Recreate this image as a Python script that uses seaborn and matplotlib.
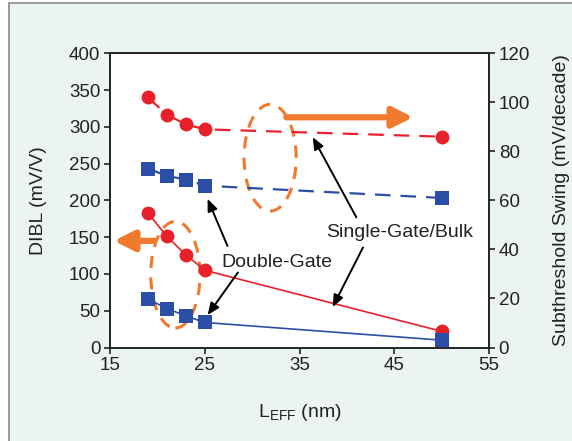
import matplotlib
matplotlib.use("Agg")
import matplotlib.pyplot as plt
from matplotlib.patches import Ellipse, Rectangle
import seaborn as sns
import pandas as pd

# ---- data ----
leff = [19, 21, 23, 25, 50]
dibl_single = [183, 151, 126, 105, 22]
dibl_double = [66, 53, 43, 34, 10]
ss_single = [102, 95, 91, 89, 86]
ss_double = [73, 70, 68.5, 66, 61]

xticks = [15, 25, 35, 45, 55]
yticks_left = [0, 50, 100, 150, 200, 250, 300, 350, 400]
yticks_right = [0, 20, 40, 60, 80, 100, 120]

RED = "#e8202a"
BLUE = "#2b4ea6"
ORANGE = "#f07a2e"
TXT = "#222222"

sns.set_theme(style="ticks")
plt.rcParams["font.family"] = ["Liberation Sans", "DejaVu Sans"]
plt.rcParams["mathtext.fontset"] = "custom"
plt.rcParams["mathtext.rm"] = "Liberation Sans"

fig = plt.figure(figsize=(5.72, 4.41), dpi=100)
fig.patch.set_facecolor("white")
# outer panel
W, H = 572, 441
fig.patches.append(Rectangle((9 / W, -0.1), 1.2, 1 - 3 / H + 0.1, transform=fig.transFigure,
                             facecolor="#ebf4f2", edgecolor="#8a8a8a", lw=1.2, zorder=-10))

ax = fig.add_axes([110 / W, (441 - 347.5) / H, 379 / W, 294.2 / H])
ax.set_facecolor("white")
ax2 = ax.twinx()

df = pd.DataFrame({"leff": leff, "dibl_single": dibl_single, "dibl_double": dibl_double,
                   "ss_single": ss_single, "ss_double": ss_double})

# solid lines (DIBL, left axis)
sns.lineplot(data=df, x="leff", y="dibl_single", ax=ax, color=RED, lw=1.2,
             marker="o", markersize=10, markeredgewidth=0, zorder=4)
sns.lineplot(data=df, x="leff", y="dibl_double", ax=ax, color=BLUE, lw=1.2,
             marker="s", markersize=10, markeredgewidth=0, zorder=4)
# dashed lines (subthreshold swing, right axis)
sns.lineplot(data=df, x="leff", y="ss_single", ax=ax2, color=RED, lw=1.6,
             dashes=(7, 4.5), marker="o", markersize=10, markeredgewidth=0)
sns.lineplot(data=df, x="leff", y="ss_double", ax=ax2, color=BLUE, lw=1.6,
             dashes=(7, 4.5), marker="s", markersize=10, markeredgewidth=0)

ax.set_xlim(15, 55)
ax.set_ylim(0, 400)
ax2.set_ylim(0, 120)
ax.set_xticks(xticks)
ax.set_yticks(yticks_left)
ax2.set_yticks(yticks_right)

for a in (ax, ax2):
    for s in a.spines.values():
        s.set_color("#222222")
        s.set_linewidth(1.2)
    a.tick_params(direction="out", length=4, width=1.2, colors="#222222",
                  labelsize=13.5, labelcolor=TXT, pad=3)

ax.set_xlabel(r"$\mathregular{L_{EFF}}$ (nm)", fontsize=14, color=TXT, labelpad=20)
ax.set_ylabel("DIBL (mV/V)", fontsize=14, color=TXT)
ax2.set_ylabel("Subthreshold Swing (mV/decade)", fontsize=14, color=TXT)
ax.yaxis.set_label_coords(-0.165, 0.5)
ax2.yaxis.set_label_coords(1.17, 0.5)

# dashed orange ellipses (in DIBL data coords)
for (cx, cy, w, h) in [(31.9, 258, 5.5, 145), (21.9, 99, 5.2, 145)]:
    ax.add_patch(Ellipse((cx, cy), w, h, fill=False, edgecolor=ORANGE, lw=2.2,
                         linestyle=(0, (4, 3)), zorder=3))

# orange thick arrows
arrow_kw = dict(arrowstyle="-|>,head_width=0.5,head_length=1.0", color=ORANGE, lw=4.5,
                shrinkA=0, shrinkB=0)
ax2.annotate("", xy=(15.4, 145), xytext=(19.7, 145), xycoords=ax.transData,
             textcoords=ax.transData, arrowprops=arrow_kw)
ax2.annotate("", xy=(47.0, 313), xytext=(33.6, 313), xycoords=ax.transData,
             textcoords=ax.transData, arrowprops=arrow_kw)

# black arrows and labels
blk = dict(arrowstyle="-|>,head_width=0.25,head_length=0.6", color="black", lw=1.4,
           shrinkA=0, shrinkB=0)
ax2.text(32.6, 115, "Double-Gate", transform=ax.transData, fontsize=14, color=TXT,
         ha="center", va="center")
ax2.text(45.6, 156, "Single-Gate/Bulk", transform=ax.transData, fontsize=14, color=TXT,
         ha="center", va="center")
for (tip, start) in [((25.3, 202), (27.4, 138)), ((25.3, 44), (28.5, 102)),
                     ((36.4, 286), (41.0, 177)), ((38.5, 55), (41.7, 136))]:
    ax2.annotate("", xy=tip, xytext=start, xycoords=ax.transData,
                 textcoords=ax.transData, arrowprops=blk)

fig.savefig("out.png", dpi=100, facecolor=fig.get_facecolor())
